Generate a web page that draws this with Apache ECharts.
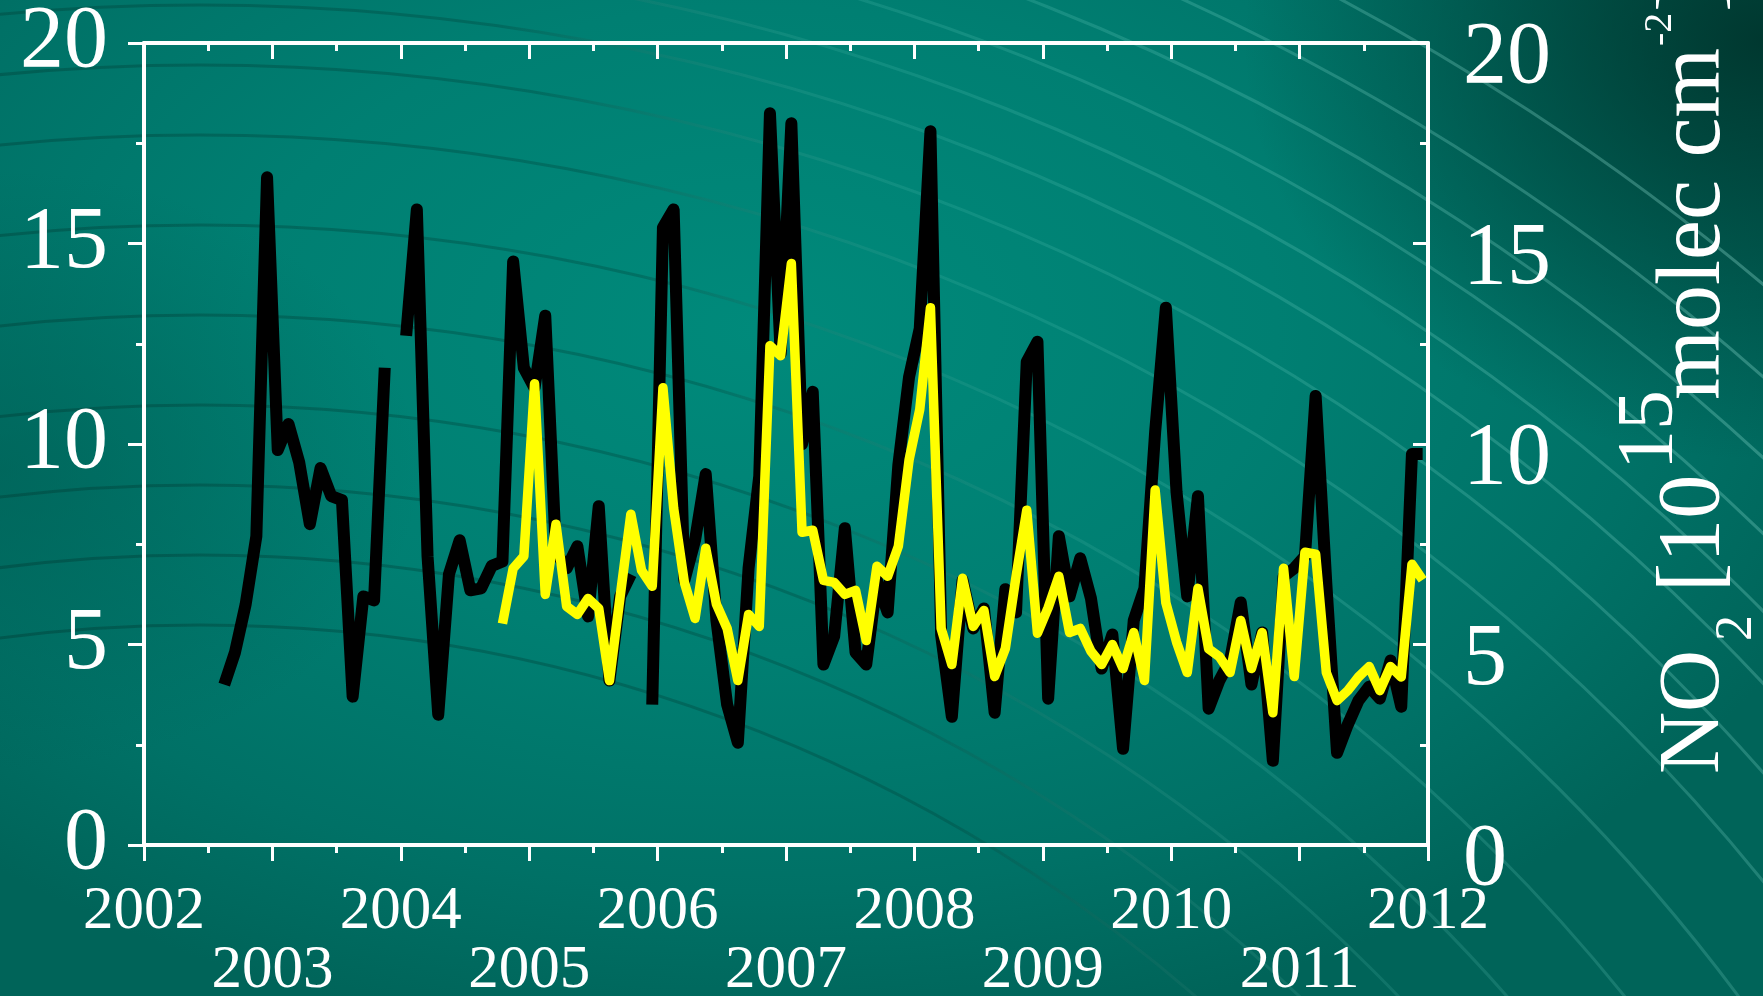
<!DOCTYPE html>
<html>
<head>
<meta charset="utf-8">
<script src="https://cdn.jsdelivr.net/npm/echarts@6/dist/echarts.min.js"></script>
<style>
  html, body { margin: 0; padding: 0; }
  body {
    width: 1763px; height: 996px; overflow: hidden;
    background:
      radial-gradient(ellipse 520px 420px at 1763px 40px, rgba(0,48,40,0.85), rgba(0,48,40,0) 100%),
      radial-gradient(ellipse 420px 300px at 0px 470px, rgba(0,92,82,0.55), rgba(0,92,82,0) 100%),
      radial-gradient(ellipse 1150px 720px at 760px 330px, #008a7b 0%, #007f72 45%, #007166 78%, #006459 100%);
  }
  #chart { width: 1763px; height: 996px; }
</style>
</head>
<body>
<div id="chart"></div>
<script>
// ---- data (monthly means, mid-month) ----
const blackStart = { year: 2002, month: 8 };   // Aug 2002
const blackValues = [
  4.0, 4.8, 6.0, 7.7, 16.65,                                        // 2002 Aug-Dec
  9.85, 10.5, 9.55, 8.0, 9.4, 8.7, 8.6, 3.7, 6.2, 6.1, 11.9, null,    // 2003
  12.7, 15.85, 7.2, 3.25, 6.75, 7.6, 6.35, 6.4, 6.96, 7.07, 14.55, 11.9, // 2004
  11.4, 13.2, 7.3, 6.9, 7.45, 5.7, 8.45, 4.1, 6.2, 6.75, null, 3.5,  // 2005
  15.4, 15.85, 6.6, 7.6, 9.25, 5.6, 3.5, 2.55, 6.9, 9.2, 18.25, 12.25, // 2006
  18.0, 10.0, 11.3, 4.5, 5.2, 7.9, 4.8, 4.5, 6.6, 5.8, 9.48, 11.67,  // 2007
  12.88, 17.8, 5.23, 3.2, 6.6, 5.4, 5.9, 3.3, 6.38, 5.8, 12.05, 12.55, // 2008
  3.65, 7.7, 6.2, 7.15, 6.15, 4.4, 5.25, 2.4, 5.6, 6.4, 10.3, 13.4,  // 2009
  8.8, 6.2, 8.7, 3.4, 4.1, 4.6, 6.05, 4.0, 5.3, 2.1, 6.7, 6.9,       // 2010
  7.2, 11.2, 6.5, 2.3, 3.0, 3.6, 3.95, 3.65, 4.6, 3.45, 9.75, 9.75   // 2011
];
const yellowStart = { year: 2004, month: 10 };  // Oct 2004
const yellowValues = [
  5.52, 6.9, 7.2,                                                    // 2004 Oct-Dec
  11.5, 6.25, 8.0, 5.95, 5.75, 6.15, 5.9, 4.1, 6.2, 8.25, 6.85, 6.45, // 2005
  11.4, 8.4, 6.55, 5.65, 7.4, 6.0, 5.4, 4.1, 5.75, 5.45, 12.45, 12.2, // 2006
  14.5, 7.8, 7.85, 6.6, 6.55, 6.25, 6.35, 5.1, 6.95, 6.7, 7.45, 9.6,  // 2007
  10.86, 13.4, 5.4, 4.5, 6.65, 5.45, 5.85, 4.2, 4.9, 6.7, 8.35, 5.28, // 2008
  5.92, 6.7, 5.3, 5.4, 4.83, 4.5, 5.0, 4.4, 5.3, 4.1, 8.85, 6.04,     // 2009
  5.06, 4.3, 6.4, 4.89, 4.7, 4.3, 5.6, 4.4, 5.3, 3.3, 6.9, 4.2,       // 2010
  7.3, 7.25, 4.3, 3.6, 3.85, 4.19, 4.45, 3.85, 4.45, 4.19, 7.0, 6.61  // 2011
];
const xTickYears = [2002, 2003, 2004, 2005, 2006, 2007, 2008, 2009, 2010, 2011, 2012];
const yTicks = [0, 5, 10, 15, 20];

function toSeries(start, values) {
  return values.map((v, i) => [
    start.year + (start.month - 1 + i + 0.5) / 12,
    v === null ? '-' : v
  ]);
}

const WHITE = '#ffffff';
const FONT = '"Liberation Serif", "DejaVu Serif", serif';

const chart = echarts.init(document.getElementById('chart'), null, { renderer: 'canvas' });

// decorative background arcs
const arcs = [];
const arcStroke = {
  type: 'linear', x: 0, y: 996, x2: 1763, y2: 0, global: true,
  colorStops: [
    { offset: 0, color: 'rgba(0,55,48,0.40)' },
    { offset: 0.45, color: 'rgba(0,62,54,0.30)' },
    { offset: 0.6, color: 'rgba(110,215,200,0.14)' },
    { offset: 1, color: 'rgba(170,240,228,0.34)' }
  ]
};
const radii = [1520, 1590, 1660, 1740, 1830, 1920, 2010, 2080, 2140, 2190, 2245, 2300, 2360, 2430];
radii.forEach(r => {
  arcs.push({
    type: 'circle', silent: true, z: -10,
    shape: { cx: 200, cy: 2145, r: r },
    style: { fill: 'none', stroke: arcStroke, lineWidth: 3 }
  });
});

function titlePiece(text, x, y, size) {
  return {
    type: 'text', x: x, y: y, rotation: Math.PI / 2, silent: true, z: 10,
    style: {
      text: text, fill: WHITE, fontSize: size, fontFamily: FONT,
      align: 'left', verticalAlign: 'middle',
      textAlign: 'left', textVerticalAlign: 'middle'
    }
  };
}
const titleEls = [
  titlePiece('NO', 1695, 774, 86),
  titlePiece('2', 1737, 641, 52),
  titlePiece('[10', 1695, 592, 88),
  titlePiece('15', 1651, 470, 80),
  titlePiece('molec cm', 1695, 400, 90),
  titlePiece('-2', 1660, 46, 40),
  titlePiece(']', 1695, 12, 88)
];

const yTickSet = new Set(yTicks);
const xTickSet = new Set(xTickYears);

const option = {
  animation: false,
  backgroundColor: 'transparent',
  graphic: { elements: arcs.concat(titleEls) },
  grid: { left: 144, right: 335, top: 43, bottom: 151, containLabel: false, outerBoundsMode: 'none' },
  xAxis: [
    {
      type: 'value', min: 2002, max: 2012, interval: 1, position: 'bottom',
      axisLine: { show: true, onZero: false, lineStyle: { color: WHITE, width: 4 } },
      axisTick: { show: true, inside: false, length: 16, lineStyle: { color: WHITE, width: 3 } },
      minorTick: { show: true, splitNumber: 2, length: 8, lineStyle: { color: WHITE, width: 3 } },
      splitLine: { show: false }, minorSplitLine: { show: false },
      axisLabel: {
        show: true, color: WHITE, fontFamily: FONT, fontSize: 61, lineHeight: 59,
        margin: 37, verticalAlign: 'top',
        formatter: function (v) {
          const y = Math.round(v);
          if (!xTickSet.has(y)) return '';
          return (y % 2 === 0) ? String(y) : '\n' + y;
        }
      }
    },
    {
      type: 'value', min: 2002, max: 2012, interval: 1, position: 'top',
      axisLine: { show: true, onZero: false, lineStyle: { color: WHITE, width: 4 } },
      axisTick: { show: true, inside: true, length: 16, lineStyle: { color: WHITE, width: 3 } },
      minorTick: { show: true, splitNumber: 2, length: 8, lineStyle: { color: WHITE, width: 3 } },
      splitLine: { show: false }, minorSplitLine: { show: false },
      axisLabel: { show: false }
    }
  ],
  yAxis: [
    {
      type: 'value', min: 0, max: 20, interval: 5, position: 'left',
      axisLine: { show: true, onZero: false, lineStyle: { color: WHITE, width: 4 } },
      axisTick: { show: true, inside: false, length: 16, lineStyle: { color: WHITE, width: 3 } },
      minorTick: { show: true, splitNumber: 2, length: 8, lineStyle: { color: WHITE, width: 3 } },
      splitLine: { show: false }, minorSplitLine: { show: false },
      axisLabel: {
        show: true, color: WHITE, fontFamily: FONT, fontSize: 88, margin: 36,
        formatter: v => (yTickSet.has(v) ? String(v) : '')
      }
    },
    {
      type: 'value', min: 0, max: 20, interval: 5, position: 'right',
      axisLine: { show: true, onZero: false, lineStyle: { color: WHITE, width: 4 } },
      axisTick: { show: true, inside: true, length: 15, lineStyle: { color: WHITE, width: 3 } },
      minorTick: { show: true, splitNumber: 2, length: 8, lineStyle: { color: WHITE, width: 3 } },
      splitLine: { show: false }, minorSplitLine: { show: false },
      axisLabel: {
        show: true, color: WHITE, fontFamily: FONT, fontSize: 88, margin: 35,
        formatter: v => (yTickSet.has(v) ? '{r|' + v + '}' : ''),
        rich: { r: { color: WHITE, fontFamily: FONT, fontSize: 88, padding: [32, 0, 0, 0] } }
      }
    }
  ],
  series: [
    {
      name: 'black', type: 'line', xAxisIndex: 0, yAxisIndex: 0,
      data: toSeries(blackStart, blackValues),
      showSymbol: false, symbol: 'none', connectNulls: false, z: 3,
      lineStyle: { color: '#000000', width: 12, cap: 'butt', join: 'round' }
    },
    {
      name: 'yellow', type: 'line', xAxisIndex: 0, yAxisIndex: 0,
      data: toSeries(yellowStart, yellowValues),
      showSymbol: false, symbol: 'none', connectNulls: false, z: 4,
      lineStyle: { color: '#ffff00', width: 9.5, cap: 'butt', join: 'round' }
    }
  ]
};
chart.setOption(option);
</script>
</body>
</html>
